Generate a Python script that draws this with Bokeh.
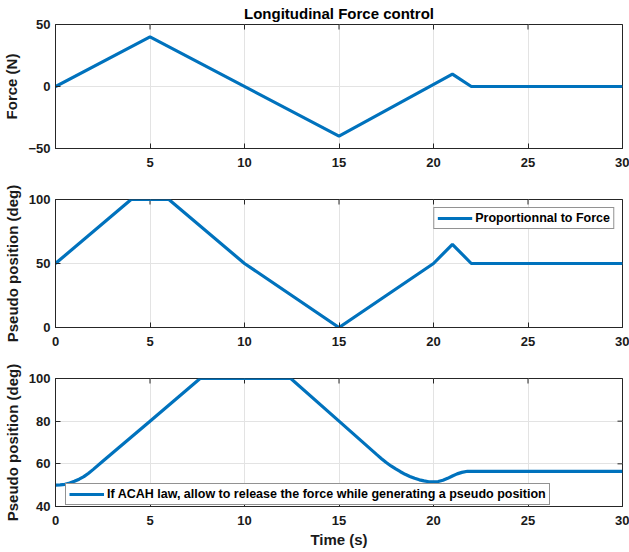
import math
from bokeh.plotting import figure
from bokeh.layouts import column
from bokeh.models import Range1d, FixedTicker, Legend
from bokeh.embed import file_html
from bokeh.resources import INLINE

# ---- data ----
t_force = [0, 5, 15, 21, 22, 30]
force = [0, 40, -40, 10, 0, 0]

t_prop = [0, 4, 6, 10, 15, 20, 21, 22, 30]
pos_prop = [50, 100, 100, 50, 0, 50, 65, 50, 50]

t_acah = [0, 0.25, 0.5, 0.75, 1.0, 1.25, 1.5, 1.75, 2.0, 2.5, 3.0, 5.0, 7.65, 12.45,
          15.0, 17.0, 17.25, 17.5, 17.75, 18.0, 18.25, 18.5, 18.75, 19.0, 19.25, 19.5,
          19.75, 20.0, 20.25, 20.5, 20.75, 21.0, 21.25, 21.5, 21.8, 30]
pos_acah = [50, 50.1, 50.4, 51.0, 51.8, 52.8, 54.0, 55.6, 57.4, 61.2, 65.0, 80.0, 100, 100,
            80.0, 64.3, 62.4, 60.6, 59.0, 57.6, 56.3, 55.1, 54.1, 53.2, 52.5, 52.0,
            51.6, 51.5, 51.7, 52.3, 53.2, 54.3, 55.3, 56.0, 56.5, 56.5]

x_ticks_top = [5, 10, 15, 20, 25, 30]
x_ticks = [0, 5, 10, 15, 20, 25, 30]
y_ticks_1 = [-50, 0, 50]
y_ticks_2 = [0, 50, 100]
y_ticks_3 = [40, 60, 80, 100]

title_text = "Longitudinal Force control"
ylabel_1 = "Force (N)"
ylabel_23 = "Pseudo position (deg)"
xlabel = "Time (s)"
legend_2 = "Proportionnal to Force"
legend_3 = "If ACAH law, allow to release the force while generating a pseudo position"

BLUE = "#0072BD"
AX = "#262626"
FONT = "Liberation Sans"
W = 629
X0, X1 = 0, 30


def make_fig(height, top, bottom, yr, xt, yt, ylabel):
    p = figure(width=W, height=height, output_backend="svg", toolbar_location=None,
               x_range=Range1d(X0, X1), y_range=Range1d(*yr),
               min_border_left=53, min_border_right=7,
               min_border_top=top, min_border_bottom=bottom,
               background_fill_color="white", border_fill_color="white")
    p.outline_line_color = AX
    p.outline_line_width = 1
    p.xaxis.ticker = FixedTicker(ticks=xt)
    p.yaxis.ticker = FixedTicker(ticks=yt)
    for ax in (p.below[0], p.left[0]):
        ax.axis_line_color = AX
        ax.major_tick_line_color = AX
        ax.major_tick_in = 5
        ax.major_tick_out = 0
        ax.minor_tick_line_color = None
        ax.major_label_text_font = FONT
        ax.major_label_text_font_style = "bold"
        ax.major_label_text_font_size = "13px"
        ax.major_label_text_color = "#1a1a1a"
        ax.axis_label_text_font = FONT
        ax.axis_label_text_font_style = "bold"
        ax.axis_label_text_font_size = "15px"
        ax.axis_label_text_color = "#1a1a1a"
    p.below[0].major_label_standoff = 9
    p.left[0].major_label_standoff = 5
    p.left[0].axis_label = ylabel
    p.left[0].axis_label_standoff = 5
    p.xgrid.ticker = FixedTicker(ticks=xt)
    p.ygrid.ticker = FixedTicker(ticks=yt)
    p.grid.grid_line_color = "#e3e3e3"
    p.grid.grid_line_width = 1
    # mirrored inward ticks on top and right edges (MATLAB box style)
    p.scatter(x=xt, y=[yr[1]] * len(xt), marker="dash", angle=math.pi / 2, size=10,
              line_color=AX, line_width=1)
    p.scatter(x=[X1] * len(yt), y=yt, marker="dash", size=10, line_color=AX, line_width=1)
    return p


p1 = make_fig(180, 22, 32, (-50, 50), x_ticks_top, y_ticks_1, ylabel_1)
p1.line(t_force, force, line_color=BLUE, line_width=3.2)
p1.title.text = title_text
p1.title.align = "center"
p1.title.text_font = FONT
p1.title.text_font_style = "bold"
p1.title.text_font_size = "15px"
p1.title.text_color = "#000000"
p1.title.standoff = 5
p1.title.text_line_height = 0.9

p2 = make_fig(178, 19, 31, (0, 100), x_ticks, y_ticks_2, ylabel_23)
r2 = p2.line(t_prop, pos_prop, line_color=BLUE, line_width=3.2)

p3 = make_fig(194, 20, 46, (40, 100), x_ticks, y_ticks_3, ylabel_23)
r3 = p3.line(t_acah, pos_acah, line_color=BLUE, line_width=3.2)
p3.below[0].axis_label = xlabel
p3.below[0].axis_label_standoff = 3


def style_legend(lg):
    lg.border_line_color = AX
    lg.border_line_width = 1
    lg.background_fill_color = "white"
    lg.background_fill_alpha = 1
    lg.label_text_font = FONT
    lg.label_text_font_style = "bold"
    lg.label_text_font_size = "12.5px"
    lg.label_text_color = "#000000"
    lg.glyph_width = 35
    lg.glyph_height = 14
    lg.label_height = 14
    lg.label_standoff = 3
    lg.padding = 3
    lg.spacing = 0


lg2 = Legend(items=[(legend_2, [r2])], location="top_right", margin=8)
style_legend(lg2)
p2.add_layout(lg2)

lg3 = Legend(items=[(legend_3, [r3])], location=(10, 1), margin=0)
style_legend(lg3)
p3.add_layout(lg3)

layout = column(p1, p2, p3, spacing=0)
open("out.html", "w").write(file_html(layout, INLINE))
